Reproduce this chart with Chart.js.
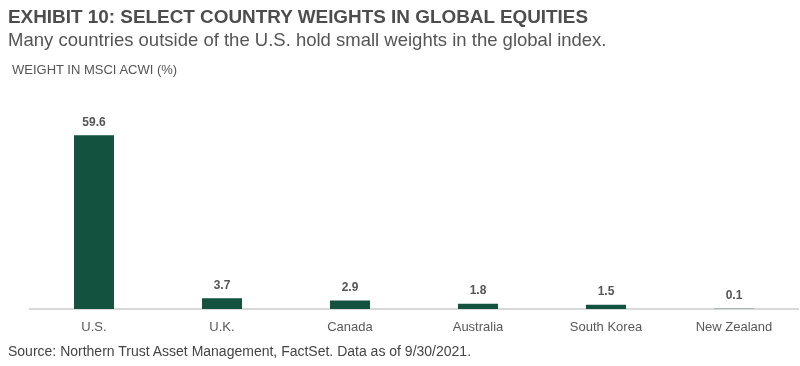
<!DOCTYPE html>
<html>
<head>
<meta charset="utf-8">
<script src="https://cdn.jsdelivr.net/npm/chart.js@4/dist/chart.umd.min.js"></script>
<style>
  html, body { margin: 0; padding: 0; background: #fff; }
  #wrap { position: relative; width: 800px; height: 366px; font-family: "Liberation Sans", Arial, sans-serif; }
  #grafico { position: absolute; left: 0; top: 0; }
  .txt { position: absolute; white-space: nowrap; color: #4d4d4d; }
  #titulo { left: 8px; top: 6px; font-size: 18.9px; font-weight: bold; }
  #subtitulo { left: 8px; top: 29px; font-size: 18.5px; color: #555; }
  #ejeY { left: 12px; top: 62px; font-size: 13px; color: #555; }
  #fuente { left: 8px; top: 343px; font-size: 14px; color: #444; }
</style>
</head>
<body>
<div id="wrap">
  <canvas id="grafico" width="800" height="366"></canvas>
  <div class="txt" id="titulo">EXHIBIT 10: SELECT COUNTRY WEIGHTS IN GLOBAL EQUITIES</div>
  <div class="txt" id="subtitulo">Many countries outside of the U.S. hold small weights in the global index.</div>
  <div class="txt" id="ejeY">WEIGHT IN MSCI ACWI (%)</div>
  <div class="txt" id="fuente">Source: Northern Trust Asset Management, FactSet. Data as of 9/30/2021.</div>
</div>
<script>
const paises = ['U.S.', 'U.K.', 'Canada', 'Australia', 'South Korea', 'New Zealand'];
const pesos = [59.6, 3.7, 2.9, 1.8, 1.5, 0.1];

// etiquetas de valor encima de cada barra
const etiquetasValor = {
    id: 'etiquetasValor',
    afterDatasetsDraw(chart) {
        const ctx = chart.ctx;
        const meta = chart.getDatasetMeta(0);
        ctx.save();
        ctx.font = 'bold 12px "Liberation Sans", Arial, sans-serif';
        ctx.fillStyle = '#555';
        ctx.textAlign = 'center';
        ctx.textBaseline = 'bottom';
        meta.data.forEach((bar, i) => {
            ctx.fillText(pesos[i].toFixed(1), bar.x, bar.y - 7);
        });
        ctx.restore();
    }
};

new Chart(document.getElementById('grafico').getContext('2d'), {
    type: 'bar',
    data: {
        labels: paises,
        datasets: [{
            data: pesos,
            backgroundColor: '#12523f',
            borderWidth: 0,
            barPercentage: 0.3125,
            categoryPercentage: 1
        }]
    },
    options: {
        responsive: false,
        animation: false,
        layout: { padding: { left: 30, right: 2, top: 105, bottom: 0 } },
        plugins: {
            legend: { display: false },
            tooltip: { enabled: false }
        },
        scales: {
            x: {
                grid: { display: false },
                border: { display: true, color: '#d9d9d9', width: 2 },
                ticks: {
                    color: '#595959',
                    padding: 3,
                    font: { family: '"Liberation Sans", Arial, sans-serif', size: 13 }
                },
                afterFit: (scale) => { scale.height = 57; }
            },
            y: {
                display: false,
                min: 0,
                max: 70
            }
        }
    },
    plugins: [etiquetasValor]
});
</script>
</body>
</html>
